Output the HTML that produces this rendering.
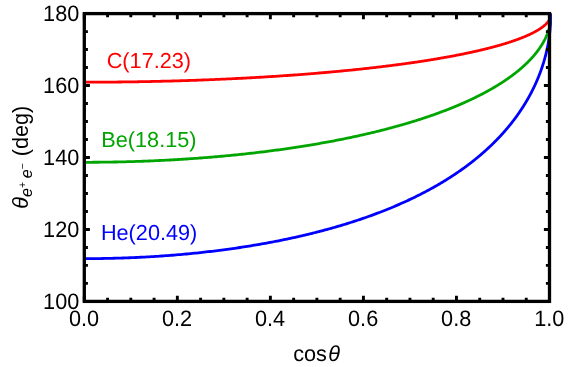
<!DOCTYPE html>
<html><head><meta charset="utf-8"><title>plot</title>
<style>
html,body{margin:0;padding:0;background:#fff;}
body{width:581px;height:367px;overflow:hidden;}
svg{display:block;will-change:transform;}
text{font-family:"Liberation Sans",sans-serif;}
</style></head><body>
<svg width="581" height="367" viewBox="0 0 581 367">
<rect x="0" y="0" width="581" height="367" fill="#ffffff"/>

<clipPath id="cp"><rect x="84.30" y="11.60" width="467.50" height="291.80"/></clipPath>
<g fill="none" stroke-width="2.8" stroke-linejoin="round" stroke-linecap="butt" clip-path="url(#cp)">
<path d="M84.30,82.20 L86.63,82.20 L88.96,82.20 L91.27,82.19 L93.59,82.19 L95.89,82.18 L98.19,82.17 L100.48,82.16 L102.76,82.15 L105.03,82.13 L107.30,82.12 L109.57,82.10 L111.82,82.08 L114.07,82.06 L116.31,82.04 L118.55,82.02 L120.77,81.99 L122.99,81.97 L125.21,81.94 L127.41,81.91 L129.61,81.88 L131.81,81.85 L133.99,81.82 L136.17,81.78 L138.35,81.75 L140.51,81.71 L142.67,81.67 L144.82,81.63 L146.97,81.59 L149.11,81.55 L151.24,81.50 L153.36,81.46 L155.48,81.41 L157.59,81.36 L159.70,81.32 L161.80,81.26 L163.89,81.21 L165.97,81.16 L168.05,81.11 L170.12,81.05 L172.18,81.00 L174.24,80.94 L176.29,80.88 L178.33,80.82 L180.37,80.76 L182.40,80.70 L184.43,80.63 L186.44,80.57 L188.45,80.50 L190.46,80.43 L192.46,80.37 L194.45,80.30 L196.43,80.23 L198.41,80.16 L200.38,80.08 L202.34,80.01 L204.30,79.94 L206.25,79.86 L208.19,79.78 L210.13,79.71 L212.06,79.63 L213.99,79.55 L215.91,79.47 L217.82,79.39 L219.72,79.30 L221.62,79.22 L223.51,79.13 L225.40,79.05 L227.28,78.96 L229.15,78.87 L231.01,78.79 L232.87,78.70 L234.73,78.61 L236.57,78.51 L238.41,78.42 L240.25,78.33 L242.07,78.23 L243.89,78.14 L245.71,78.04 L247.51,77.95 L249.32,77.85 L251.11,77.75 L252.90,77.65 L254.68,77.55 L256.46,77.45 L258.23,77.35 L259.99,77.24 L261.74,77.14 L263.49,77.03 L265.24,76.93 L266.97,76.82 L268.71,76.72 L270.43,76.61 L272.15,76.50 L273.86,76.39 L275.57,76.28 L277.27,76.17 L278.96,76.06 L280.65,75.94 L282.33,75.83 L284.00,75.72 L285.67,75.60 L287.33,75.49 L288.98,75.37 L290.63,75.25 L292.28,75.13 L293.91,75.02 L295.54,74.90 L297.17,74.78 L298.79,74.66 L300.40,74.53 L302.00,74.41 L303.60,74.29 L305.20,74.17 L306.78,74.04 L308.36,73.92 L309.94,73.79 L311.51,73.67 L313.07,73.54 L314.63,73.41 L316.18,73.28 L317.72,73.15 L319.26,73.02 L320.79,72.89 L322.32,72.76 L323.84,72.63 L325.35,72.50 L326.86,72.37 L328.36,72.24 L329.86,72.10 L331.35,71.97 L332.83,71.83 L334.31,71.70 L335.78,71.56 L337.24,71.42 L338.70,71.29 L340.16,71.15 L341.60,71.01 L343.05,70.87 L344.48,70.73 L345.91,70.59 L347.34,70.45 L348.75,70.31 L350.16,70.17 L351.57,70.03 L352.97,69.88 L354.37,69.74 L355.75,69.60 L357.14,69.45 L358.51,69.31 L359.88,69.16 L361.25,69.02 L362.61,68.87 L363.96,68.72 L365.31,68.58 L366.65,68.43 L367.98,68.28 L369.31,68.13 L370.64,67.98 L371.96,67.83 L373.27,67.68 L374.57,67.53 L375.88,67.38 L377.17,67.23 L378.46,67.08 L379.74,66.93 L381.02,66.77 L382.29,66.62 L383.56,66.47 L384.82,66.31 L386.08,66.16 L387.33,66.00 L388.57,65.85 L389.81,65.69 L391.04,65.54 L392.27,65.38 L393.49,65.22 L394.70,65.07 L395.91,64.91 L397.12,64.75 L398.31,64.59 L399.51,64.43 L400.69,64.28 L401.88,64.12 L403.05,63.96 L404.22,63.80 L405.39,63.64 L406.55,63.47 L407.70,63.31 L408.85,63.15 L409.99,62.99 L411.13,62.83 L412.26,62.66 L413.39,62.50 L414.51,62.34 L415.62,62.18 L416.73,62.01 L417.84,61.85 L418.94,61.68 L420.03,61.52 L421.12,61.35 L422.20,61.19 L423.28,61.02 L424.35,60.86 L425.42,60.69 L426.48,60.52 L427.53,60.36 L428.58,60.19 L429.63,60.02 L430.67,59.85 L431.70,59.69 L432.73,59.52 L433.75,59.35 L434.77,59.18 L435.79,59.01 L436.79,58.84 L437.80,58.67 L438.79,58.50 L439.78,58.33 L440.77,58.16 L441.75,57.99 L442.73,57.82 L443.70,57.65 L444.66,57.48 L445.63,57.31 L446.58,57.14 L447.53,56.97 L448.48,56.79 L449.41,56.62 L450.35,56.45 L451.28,56.28 L452.20,56.10 L453.12,55.93 L454.04,55.76 L454.94,55.58 L455.85,55.41 L456.75,55.24 L457.64,55.06 L458.53,54.89 L459.41,54.72 L460.29,54.54 L461.16,54.37 L462.03,54.19 L462.89,54.02 L463.75,53.84 L464.60,53.67 L465.45,53.49 L466.30,53.32 L467.13,53.14 L467.97,52.97 L468.80,52.79 L469.62,52.61 L470.44,52.44 L471.25,52.26 L472.06,52.09 L472.86,51.91 L473.66,51.73 L474.45,51.56 L475.24,51.38 L476.03,51.20 L476.81,51.02 L477.58,50.85 L478.35,50.67 L479.11,50.49 L479.87,50.32 L480.63,50.14 L481.38,49.96 L482.12,49.78 L482.86,49.61 L483.60,49.43 L484.33,49.25 L485.06,49.07 L485.78,48.89 L486.50,48.72 L487.21,48.54 L487.91,48.36 L488.62,48.18 L489.32,48.00 L490.01,47.82 L490.70,47.65 L491.38,47.47 L492.06,47.29 L492.73,47.11 L493.40,46.93 L494.07,46.75 L494.73,46.58 L495.39,46.40 L496.04,46.22 L496.69,46.04 L497.33,45.86 L497.97,45.68 L498.60,45.50 L499.23,45.33 L499.85,45.15 L500.47,44.97 L501.09,44.79 L501.70,44.61 L502.31,44.43 L502.91,44.25 L503.50,44.07 L504.10,43.90 L504.69,43.72 L505.27,43.54 L505.85,43.36 L506.43,43.18 L507.00,43.00 L507.56,42.82 L508.13,42.65 L508.68,42.47 L509.24,42.29 L509.79,42.11 L510.33,41.93 L510.87,41.75 L511.41,41.58 L511.94,41.40 L512.47,41.22 L512.99,41.04 L513.51,40.86 L514.02,40.69 L514.54,40.51 L515.04,40.33 L515.54,40.15 L516.04,39.98 L516.54,39.80 L517.03,39.62 L517.51,39.44 L517.99,39.27 L518.47,39.09 L518.94,38.91 L519.41,38.74 L519.88,38.56 L520.34,38.38 L520.80,38.21 L521.25,38.03 L521.70,37.85 L522.14,37.68 L522.58,37.50 L523.02,37.33 L523.45,37.15 L523.88,36.97 L524.31,36.80 L524.73,36.62 L525.14,36.45 L525.56,36.27 L525.97,36.10 L526.37,35.92 L526.77,35.75 L527.17,35.57 L527.56,35.40 L527.95,35.23 L528.34,35.05 L528.72,34.88 L529.10,34.70 L529.47,34.53 L529.84,34.36 L530.21,34.18 L530.57,34.01 L530.93,33.84 L531.29,33.67 L531.64,33.49 L531.98,33.32 L532.33,33.15 L532.67,32.98 L533.01,32.81 L533.34,32.63 L533.67,32.46 L533.99,32.29 L534.32,32.12 L534.64,31.95 L534.95,31.78 L535.26,31.61 L535.57,31.44 L535.87,31.27 L536.17,31.10 L536.47,30.93 L536.77,30.76 L537.06,30.60 L537.34,30.43 L537.63,30.26 L537.90,30.09 L538.18,29.92 L538.45,29.76 L538.72,29.59 L538.99,29.42 L539.25,29.26 L539.51,29.09 L539.77,28.92 L540.02,28.76 L540.27,28.59 L540.52,28.43 L540.76,28.26 L541.00,28.10 L541.23,27.93 L541.47,27.77 L541.70,27.61 L541.92,27.44 L542.15,27.28 L542.36,27.12 L542.58,26.96 L542.80,26.79 L543.01,26.63 L543.21,26.47 L543.42,26.31 L543.62,26.15 L543.82,25.99 L544.01,25.83 L544.20,25.67 L544.39,25.51 L544.58,25.35 L544.76,25.20 L544.94,25.04 L545.12,24.88 L545.29,24.72 L545.46,24.57 L545.63,24.41 L545.80,24.25 L545.96,24.10 L546.12,23.94 L546.27,23.79 L546.43,23.64 L546.58,23.48 L546.73,23.33 L546.87,23.18 L547.01,23.02 L547.15,22.87 L547.29,22.72 L547.43,22.57 L547.56,22.42 L547.69,22.27 L547.81,22.12 L547.94,21.97 L548.06,21.82 L548.17,21.67 L548.29,21.52 L548.40,21.38 L548.51,21.23 L548.62,21.09 L548.73,20.94 L548.83,20.79 L548.93,20.65 L549.03,20.51 L549.13,20.36 L549.22,20.22 L549.31,20.08 L549.40,19.94 L549.49,19.80 L549.57,19.66 L549.65,19.52 L549.73,19.38 L549.81,19.24 L549.88,19.10 L549.96,18.96 L550.03,18.83 L550.10,18.69 L550.16,18.56 L550.23,18.42 L550.29,18.29 L550.35,18.16 L550.41,18.03 L550.46,17.89 L550.52,17.76 L550.57,17.63 L550.62,17.51 L550.67,17.38 L550.71,17.25 L550.76,17.12 L550.80,17.00 L550.84,16.87 L550.88,16.75 L550.91,16.63 L550.95,16.51 L550.98,16.39 L551.01,16.27 L551.04,16.15 L551.07,16.03 L551.10,15.91 L551.13,15.80 L551.15,15.69 L551.17,15.57 L551.19,15.46 L551.21,15.35 L551.23,15.24 L551.25,15.14 L551.26,15.03 L551.28,14.93 L551.29,14.82 L551.30,14.72 L551.31,14.62 L551.32,14.52 L551.33,14.43 L551.33,14.34 L551.34,14.25 L551.35,14.16 L551.35,14.07 L551.35,13.99 L551.36,13.91 L551.36,13.83 L551.36,13.76 L551.36,13.70 L551.36,13.64 L551.36,13.60" stroke="#ff0000"/>
<path d="M84.30,162.30 L86.63,162.30 L88.96,162.29 L91.27,162.28 L93.59,162.27 L95.89,162.26 L98.19,162.24 L100.48,162.22 L102.76,162.19 L105.03,162.16 L107.30,162.13 L109.57,162.10 L111.82,162.06 L114.07,162.02 L116.31,161.98 L118.55,161.93 L120.77,161.88 L122.99,161.83 L125.21,161.78 L127.41,161.72 L129.61,161.66 L131.81,161.59 L133.99,161.53 L136.17,161.46 L138.35,161.38 L140.51,161.31 L142.67,161.23 L144.82,161.15 L146.97,161.07 L149.11,160.98 L151.24,160.89 L153.36,160.80 L155.48,160.71 L157.59,160.61 L159.70,160.51 L161.80,160.41 L163.89,160.30 L165.97,160.20 L168.05,160.09 L170.12,159.98 L172.18,159.86 L174.24,159.75 L176.29,159.63 L178.33,159.50 L180.37,159.38 L182.40,159.25 L184.43,159.13 L186.44,158.99 L188.45,158.86 L190.46,158.72 L192.46,158.59 L194.45,158.45 L196.43,158.30 L198.41,158.16 L200.38,158.01 L202.34,157.86 L204.30,157.71 L206.25,157.56 L208.19,157.40 L210.13,157.24 L212.06,157.08 L213.99,156.92 L215.91,156.76 L217.82,156.59 L219.72,156.42 L221.62,156.25 L223.51,156.08 L225.40,155.90 L227.28,155.73 L229.15,155.55 L231.01,155.37 L232.87,155.18 L234.73,155.00 L236.57,154.81 L238.41,154.62 L240.25,154.43 L242.07,154.24 L243.89,154.04 L245.71,153.85 L247.51,153.65 L249.32,153.45 L251.11,153.25 L252.90,153.04 L254.68,152.84 L256.46,152.63 L258.23,152.42 L259.99,152.21 L261.74,152.00 L263.49,151.78 L265.24,151.57 L266.97,151.35 L268.71,151.13 L270.43,150.91 L272.15,150.68 L273.86,150.46 L275.57,150.23 L277.27,150.00 L278.96,149.77 L280.65,149.54 L282.33,149.31 L284.00,149.07 L285.67,148.84 L287.33,148.60 L288.98,148.36 L290.63,148.12 L292.28,147.88 L293.91,147.63 L295.54,147.39 L297.17,147.14 L298.79,146.89 L300.40,146.64 L302.00,146.39 L303.60,146.13 L305.20,145.88 L306.78,145.62 L308.36,145.36 L309.94,145.10 L311.51,144.84 L313.07,144.58 L314.63,144.31 L316.18,144.05 L317.72,143.78 L319.26,143.51 L320.79,143.24 L322.32,142.97 L323.84,142.70 L325.35,142.43 L326.86,142.15 L328.36,141.88 L329.86,141.60 L331.35,141.32 L332.83,141.04 L334.31,140.76 L335.78,140.47 L337.24,140.19 L338.70,139.90 L340.16,139.62 L341.60,139.33 L343.05,139.04 L344.48,138.75 L345.91,138.46 L347.34,138.16 L348.75,137.87 L350.16,137.57 L351.57,137.28 L352.97,136.98 L354.37,136.68 L355.75,136.38 L357.14,136.08 L358.51,135.77 L359.88,135.47 L361.25,135.17 L362.61,134.86 L363.96,134.55 L365.31,134.24 L366.65,133.93 L367.98,133.62 L369.31,133.31 L370.64,133.00 L371.96,132.68 L373.27,132.37 L374.57,132.05 L375.88,131.74 L377.17,131.42 L378.46,131.10 L379.74,130.78 L381.02,130.46 L382.29,130.13 L383.56,129.81 L384.82,129.49 L386.08,129.16 L387.33,128.83 L388.57,128.51 L389.81,128.18 L391.04,127.85 L392.27,127.52 L393.49,127.19 L394.70,126.86 L395.91,126.52 L397.12,126.19 L398.31,125.85 L399.51,125.52 L400.69,125.18 L401.88,124.84 L403.05,124.50 L404.22,124.16 L405.39,123.82 L406.55,123.48 L407.70,123.14 L408.85,122.80 L409.99,122.45 L411.13,122.11 L412.26,121.77 L413.39,121.42 L414.51,121.07 L415.62,120.72 L416.73,120.38 L417.84,120.03 L418.94,119.68 L420.03,119.32 L421.12,118.97 L422.20,118.62 L423.28,118.27 L424.35,117.91 L425.42,117.56 L426.48,117.20 L427.53,116.85 L428.58,116.49 L429.63,116.13 L430.67,115.77 L431.70,115.42 L432.73,115.06 L433.75,114.70 L434.77,114.33 L435.79,113.97 L436.79,113.61 L437.80,113.25 L438.79,112.88 L439.78,112.52 L440.77,112.15 L441.75,111.79 L442.73,111.42 L443.70,111.06 L444.66,110.69 L445.63,110.32 L446.58,109.95 L447.53,109.58 L448.48,109.21 L449.41,108.84 L450.35,108.47 L451.28,108.10 L452.20,107.73 L453.12,107.36 L454.04,106.98 L454.94,106.61 L455.85,106.24 L456.75,105.86 L457.64,105.49 L458.53,105.11 L459.41,104.73 L460.29,104.36 L461.16,103.98 L462.03,103.60 L462.89,103.23 L463.75,102.85 L464.60,102.47 L465.45,102.09 L466.30,101.71 L467.13,101.33 L467.97,100.95 L468.80,100.57 L469.62,100.19 L470.44,99.80 L471.25,99.42 L472.06,99.04 L472.86,98.66 L473.66,98.27 L474.45,97.89 L475.24,97.51 L476.03,97.12 L476.81,96.74 L477.58,96.35 L478.35,95.97 L479.11,95.58 L479.87,95.20 L480.63,94.81 L481.38,94.42 L482.12,94.04 L482.86,93.65 L483.60,93.26 L484.33,92.87 L485.06,92.49 L485.78,92.10 L486.50,91.71 L487.21,91.32 L487.91,90.93 L488.62,90.54 L489.32,90.15 L490.01,89.76 L490.70,89.37 L491.38,88.98 L492.06,88.59 L492.73,88.20 L493.40,87.81 L494.07,87.42 L494.73,87.03 L495.39,86.64 L496.04,86.25 L496.69,85.86 L497.33,85.47 L497.97,85.07 L498.60,84.68 L499.23,84.29 L499.85,83.90 L500.47,83.51 L501.09,83.11 L501.70,82.72 L502.31,82.33 L502.91,81.94 L503.50,81.55 L504.10,81.15 L504.69,80.76 L505.27,80.37 L505.85,79.97 L506.43,79.58 L507.00,79.19 L507.56,78.80 L508.13,78.40 L508.68,78.01 L509.24,77.62 L509.79,77.23 L510.33,76.83 L510.87,76.44 L511.41,76.05 L511.94,75.65 L512.47,75.26 L512.99,74.87 L513.51,74.48 L514.02,74.08 L514.54,73.69 L515.04,73.30 L515.54,72.91 L516.04,72.51 L516.54,72.12 L517.03,71.73 L517.51,71.34 L517.99,70.95 L518.47,70.56 L518.94,70.16 L519.41,69.77 L519.88,69.38 L520.34,68.99 L520.80,68.60 L521.25,68.21 L521.70,67.82 L522.14,67.43 L522.58,67.04 L523.02,66.65 L523.45,66.26 L523.88,65.87 L524.31,65.48 L524.73,65.09 L525.14,64.70 L525.56,64.31 L525.97,63.93 L526.37,63.54 L526.77,63.15 L527.17,62.76 L527.56,62.38 L527.95,61.99 L528.34,61.60 L528.72,61.22 L529.10,60.83 L529.47,60.44 L529.84,60.06 L530.21,59.67 L530.57,59.29 L530.93,58.91 L531.29,58.52 L531.64,58.14 L531.98,57.76 L532.33,57.37 L532.67,56.99 L533.01,56.61 L533.34,56.23 L533.67,55.85 L533.99,55.46 L534.32,55.08 L534.64,54.70 L534.95,54.33 L535.26,53.95 L535.57,53.57 L535.87,53.19 L536.17,52.81 L536.47,52.44 L536.77,52.06 L537.06,51.68 L537.34,51.31 L537.63,50.93 L537.90,50.56 L538.18,50.18 L538.45,49.81 L538.72,49.44 L538.99,49.07 L539.25,48.69 L539.51,48.32 L539.77,47.95 L540.02,47.58 L540.27,47.21 L540.52,46.84 L540.76,46.48 L541.00,46.11 L541.23,45.74 L541.47,45.38 L541.70,45.01 L541.92,44.65 L542.15,44.28 L542.36,43.92 L542.58,43.56 L542.80,43.19 L543.01,42.83 L543.21,42.47 L543.42,42.11 L543.62,41.75 L543.82,41.39 L544.01,41.04 L544.20,40.68 L544.39,40.32 L544.58,39.97 L544.76,39.62 L544.94,39.26 L545.12,38.91 L545.29,38.56 L545.46,38.21 L545.63,37.86 L545.80,37.51 L545.96,37.16 L546.12,36.81 L546.27,36.47 L546.43,36.12 L546.58,35.78 L546.73,35.43 L546.87,35.09 L547.01,34.75 L547.15,34.41 L547.29,34.07 L547.43,33.73 L547.56,33.39 L547.69,33.05 L547.81,32.72 L547.94,32.39 L548.06,32.05 L548.17,31.72 L548.29,31.39 L548.40,31.06 L548.51,30.73 L548.62,30.40 L548.73,30.08 L548.83,29.75 L548.93,29.43 L549.03,29.11 L549.13,28.78 L549.22,28.46 L549.31,28.15 L549.40,27.83 L549.49,27.51 L549.57,27.20 L549.65,26.88 L549.73,26.57 L549.81,26.26 L549.88,25.95 L549.96,25.65 L550.03,25.34 L550.10,25.04 L550.16,24.73 L550.23,24.43 L550.29,24.13 L550.35,23.83 L550.41,23.54 L550.46,23.24 L550.52,22.95 L550.57,22.66 L550.62,22.37 L550.67,22.08 L550.71,21.80 L550.76,21.51 L550.80,21.23 L550.84,20.95 L550.88,20.68 L550.91,20.40 L550.95,20.13 L550.98,19.86 L551.01,19.59 L551.04,19.32 L551.07,19.06 L551.10,18.80 L551.13,18.54 L551.15,18.28 L551.17,18.03 L551.19,17.78 L551.21,17.53 L551.23,17.29 L551.25,17.05 L551.26,16.81 L551.28,16.58 L551.29,16.35 L551.30,16.12 L551.31,15.90 L551.32,15.68 L551.33,15.46 L551.33,15.25 L551.34,15.05 L551.35,14.85 L551.35,14.66 L551.35,14.47 L551.36,14.30 L551.36,14.13 L551.36,13.97 L551.36,13.82 L551.36,13.69 L551.36,13.60" stroke="#00a500"/>
<path d="M84.30,258.66 L86.63,258.66 L88.95,258.65 L91.27,258.64 L93.58,258.62 L95.88,258.60 L98.17,258.58 L100.46,258.55 L102.74,258.51 L105.01,258.47 L107.28,258.43 L109.54,258.38 L111.79,258.33 L114.04,258.27 L116.28,258.21 L118.51,258.15 L120.74,258.08 L122.96,258.00 L125.17,257.92 L127.37,257.84 L129.57,257.76 L131.76,257.67 L133.94,257.57 L136.12,257.48 L138.29,257.37 L140.46,257.27 L142.61,257.16 L144.76,257.04 L146.91,256.93 L149.04,256.80 L151.17,256.68 L153.29,256.55 L155.41,256.42 L157.52,256.28 L159.62,256.14 L161.72,256.00 L163.81,255.85 L165.89,255.70 L167.96,255.54 L170.03,255.39 L172.10,255.23 L174.15,255.06 L176.20,254.89 L178.24,254.72 L180.28,254.54 L182.31,254.36 L184.33,254.18 L186.34,254.00 L188.35,253.81 L190.35,253.61 L192.35,253.42 L194.34,253.22 L196.32,253.02 L198.29,252.81 L200.26,252.60 L202.22,252.39 L204.18,252.17 L206.13,251.95 L208.07,251.73 L210.01,251.51 L211.94,251.28 L213.86,251.05 L215.78,250.81 L217.68,250.57 L219.59,250.33 L221.48,250.09 L223.37,249.84 L225.26,249.59 L227.13,249.34 L229.00,249.08 L230.87,248.82 L232.73,248.56 L234.58,248.30 L236.42,248.03 L238.26,247.76 L240.09,247.49 L241.92,247.21 L243.73,246.93 L245.55,246.65 L247.35,246.36 L249.15,246.07 L250.94,245.78 L252.73,245.49 L254.51,245.19 L256.28,244.89 L258.05,244.59 L259.81,244.29 L261.57,243.98 L263.32,243.67 L265.06,243.36 L266.79,243.04 L268.52,242.72 L270.24,242.40 L271.96,242.08 L273.67,241.75 L275.38,241.42 L277.07,241.09 L278.76,240.76 L280.45,240.42 L282.13,240.08 L283.80,239.74 L285.47,239.39 L287.13,239.05 L288.78,238.70 L290.43,238.34 L292.07,237.99 L293.70,237.63 L295.33,237.27 L296.96,236.91 L298.57,236.55 L300.18,236.18 L301.79,235.81 L303.38,235.44 L304.98,235.06 L306.56,234.68 L308.14,234.30 L309.71,233.92 L311.28,233.54 L312.84,233.15 L314.40,232.76 L315.95,232.37 L317.49,231.98 L319.03,231.58 L320.56,231.18 L322.08,230.78 L323.60,230.38 L325.11,229.97 L326.62,229.56 L328.12,229.15 L329.61,228.74 L331.10,228.33 L332.58,227.91 L334.06,227.49 L335.53,227.07 L336.99,226.64 L338.45,226.22 L339.90,225.79 L341.35,225.36 L342.79,224.93 L344.22,224.49 L345.65,224.05 L347.07,223.62 L348.49,223.17 L349.90,222.73 L351.30,222.28 L352.70,221.84 L354.10,221.39 L355.48,220.93 L356.86,220.48 L358.24,220.02 L359.61,219.57 L360.97,219.10 L362.33,218.64 L363.68,218.18 L365.03,217.71 L366.37,217.24 L367.70,216.77 L369.03,216.30 L370.35,215.82 L371.67,215.35 L372.98,214.87 L374.29,214.39 L375.59,213.90 L376.88,213.42 L378.17,212.93 L379.45,212.44 L380.73,211.95 L382.00,211.46 L383.26,210.96 L384.52,210.47 L385.78,209.97 L387.02,209.47 L388.27,208.97 L389.50,208.46 L390.73,207.96 L391.96,207.45 L393.18,206.94 L394.39,206.43 L395.60,205.91 L396.80,205.40 L398.00,204.88 L399.19,204.36 L400.38,203.84 L401.56,203.32 L402.73,202.79 L403.90,202.27 L405.07,201.74 L406.23,201.21 L407.38,200.68 L408.53,200.14 L409.67,199.61 L410.80,199.07 L411.93,198.53 L413.06,197.99 L414.18,197.45 L415.29,196.91 L416.40,196.36 L417.51,195.81 L418.60,195.27 L419.70,194.72 L420.78,194.16 L421.86,193.61 L422.94,193.05 L424.01,192.50 L425.08,191.94 L426.14,191.38 L427.19,190.82 L428.24,190.25 L429.28,189.69 L430.32,189.12 L431.36,188.55 L432.38,187.98 L433.41,187.41 L434.42,186.84 L435.44,186.27 L436.44,185.69 L437.44,185.11 L438.44,184.54 L439.43,183.96 L440.42,183.37 L441.40,182.79 L442.37,182.21 L443.34,181.62 L444.31,181.03 L445.27,180.44 L446.22,179.85 L447.17,179.26 L448.11,178.67 L449.05,178.07 L449.98,177.48 L450.91,176.88 L451.84,176.28 L452.75,175.68 L453.67,175.08 L454.57,174.48 L455.48,173.88 L456.38,173.27 L457.27,172.66 L458.16,172.06 L459.04,171.45 L459.91,170.84 L460.79,170.23 L461.65,169.61 L462.52,169.00 L463.37,168.38 L464.23,167.77 L465.07,167.15 L465.92,166.53 L466.75,165.91 L467.59,165.29 L468.41,164.67 L469.23,164.05 L470.05,163.42 L470.86,162.80 L471.67,162.17 L472.47,161.54 L473.27,160.91 L474.07,160.28 L474.85,159.65 L475.64,159.02 L476.41,158.39 L477.19,157.75 L477.96,157.12 L478.72,156.48 L479.48,155.85 L480.23,155.21 L480.98,154.57 L481.73,153.93 L482.47,153.29 L483.20,152.65 L483.93,152.00 L484.66,151.36 L485.38,150.72 L486.09,150.07 L486.81,149.43 L487.51,148.78 L488.21,148.13 L488.91,147.48 L489.60,146.83 L490.29,146.18 L490.98,145.53 L491.65,144.88 L492.33,144.23 L493.00,143.57 L493.66,142.92 L494.32,142.26 L494.98,141.61 L495.63,140.95 L496.28,140.30 L496.92,139.64 L497.55,138.98 L498.19,138.32 L498.82,137.66 L499.44,137.00 L500.06,136.34 L500.67,135.68 L501.28,135.02 L501.89,134.35 L502.49,133.69 L503.09,133.03 L503.68,132.36 L504.27,131.70 L504.85,131.03 L505.43,130.37 L506.00,129.70 L506.58,129.03 L507.14,128.37 L507.70,127.70 L508.26,127.03 L508.81,126.36 L509.36,125.69 L509.91,125.03 L510.45,124.36 L510.98,123.69 L511.51,123.02 L512.04,122.35 L512.56,121.67 L513.08,121.00 L513.60,120.33 L514.11,119.66 L514.61,118.99 L515.11,118.32 L515.61,117.64 L516.11,116.97 L516.60,116.30 L517.08,115.63 L517.56,114.95 L518.04,114.28 L518.51,113.61 L518.98,112.93 L519.44,112.26 L519.90,111.58 L520.36,110.91 L520.81,110.24 L521.26,109.56 L521.71,108.89 L522.15,108.22 L522.58,107.54 L523.01,106.87 L523.44,106.19 L523.87,105.52 L524.29,104.85 L524.70,104.17 L525.12,103.50 L525.53,102.82 L525.93,102.15 L526.33,101.48 L526.73,100.81 L527.12,100.13 L527.51,99.46 L527.89,98.79 L528.28,98.11 L528.65,97.44 L529.03,96.77 L529.40,96.10 L529.76,95.43 L530.13,94.76 L530.49,94.09 L530.84,93.42 L531.19,92.75 L531.54,92.08 L531.88,91.41 L532.22,90.74 L532.56,90.07 L532.89,89.40 L533.22,88.73 L533.55,88.07 L533.87,87.40 L534.19,86.74 L534.50,86.07 L534.81,85.40 L535.12,84.74 L535.42,84.08 L535.72,83.41 L536.02,82.75 L536.31,82.09 L536.60,81.43 L536.89,80.77 L537.17,80.11 L537.45,79.45 L537.73,78.79 L538.00,78.13 L538.27,77.47 L538.54,76.82 L538.80,76.16 L539.06,75.51 L539.31,74.85 L539.57,74.20 L539.82,73.55 L540.06,72.90 L540.30,72.25 L540.54,71.60 L540.78,70.95 L541.01,70.30 L541.24,69.65 L541.47,69.01 L541.69,68.36 L541.91,67.72 L542.13,67.08 L542.34,66.44 L542.55,65.80 L542.76,65.16 L542.96,64.52 L543.16,63.88 L543.36,63.25 L543.55,62.61 L543.75,61.98 L543.93,61.35 L544.12,60.72 L544.30,60.09 L544.48,59.46 L544.66,58.83 L544.83,58.21 L545.00,57.58 L545.17,56.96 L545.34,56.34 L545.50,55.72 L545.66,55.10 L545.81,54.49 L545.97,53.87 L546.12,53.26 L546.27,52.65 L546.41,52.04 L546.55,51.43 L546.69,50.82 L546.83,50.21 L546.96,49.61 L547.10,49.01 L547.22,48.41 L547.35,47.81 L547.47,47.21 L547.59,46.62 L547.71,46.03 L547.83,45.44 L547.94,44.85 L548.05,44.26 L548.16,43.68 L548.27,43.09 L548.37,42.51 L548.47,41.94 L548.57,41.36 L548.66,40.79 L548.76,40.21 L548.85,39.64 L548.94,39.08 L549.02,38.51 L549.11,37.95 L549.19,37.39 L549.27,36.83 L549.35,36.28 L549.42,35.72 L549.49,35.17 L549.56,34.63 L549.63,34.08 L549.70,33.54 L549.76,33.00 L549.82,32.47 L549.88,31.93 L549.94,31.40 L550.00,30.88 L550.05,30.35 L550.10,29.83 L550.15,29.31 L550.20,28.80 L550.25,28.29 L550.29,27.78 L550.33,27.28 L550.37,26.78 L550.41,26.28 L550.45,25.79 L550.48,25.30 L550.52,24.81 L550.55,24.33 L550.58,23.86 L550.61,23.38 L550.63,22.92 L550.66,22.45 L550.68,21.99 L550.71,21.54 L550.73,21.09 L550.75,20.65 L550.76,20.21 L550.78,19.78 L550.80,19.35 L550.81,18.93 L550.82,18.52 L550.83,18.11 L550.84,17.71 L550.85,17.32 L550.86,16.94 L550.87,16.56 L550.88,16.20 L550.88,15.84 L550.88,15.50 L550.89,15.17 L550.89,14.85 L550.89,14.54 L550.89,14.26 L550.90,14.00 L550.90,13.77 L550.90,13.60" stroke="#0000ff"/>
</g>
<g stroke="#000" stroke-width="2.9" fill="none">
<path d="M84.30,301.40 v-5.60 M84.30,13.60 v5.60"/>
<path d="M107.56,301.40 v-3.60 M107.56,13.60 v3.60"/>
<path d="M130.82,301.40 v-3.60 M130.82,13.60 v3.60"/>
<path d="M154.08,301.40 v-3.60 M154.08,13.60 v3.60"/>
<path d="M177.34,301.40 v-5.60 M177.34,13.60 v5.60"/>
<path d="M200.60,301.40 v-3.60 M200.60,13.60 v3.60"/>
<path d="M223.86,301.40 v-3.60 M223.86,13.60 v3.60"/>
<path d="M247.12,301.40 v-3.60 M247.12,13.60 v3.60"/>
<path d="M270.38,301.40 v-5.60 M270.38,13.60 v5.60"/>
<path d="M293.64,301.40 v-3.60 M293.64,13.60 v3.60"/>
<path d="M316.90,301.40 v-3.60 M316.90,13.60 v3.60"/>
<path d="M340.16,301.40 v-3.60 M340.16,13.60 v3.60"/>
<path d="M363.42,301.40 v-5.60 M363.42,13.60 v5.60"/>
<path d="M386.68,301.40 v-3.60 M386.68,13.60 v3.60"/>
<path d="M409.94,301.40 v-3.60 M409.94,13.60 v3.60"/>
<path d="M433.20,301.40 v-3.60 M433.20,13.60 v3.60"/>
<path d="M456.46,301.40 v-5.60 M456.46,13.60 v5.60"/>
<path d="M479.72,301.40 v-3.60 M479.72,13.60 v3.60"/>
<path d="M502.98,301.40 v-3.60 M502.98,13.60 v3.60"/>
<path d="M526.24,301.40 v-3.60 M526.24,13.60 v3.60"/>
<path d="M549.50,301.40 v-5.60 M549.50,13.60 v5.60"/>
<path d="M84.30,301.40 h5.60 M549.50,301.40 h-5.60"/>
<path d="M84.30,283.41 h3.60 M549.50,283.41 h-3.60"/>
<path d="M84.30,265.42 h3.60 M549.50,265.42 h-3.60"/>
<path d="M84.30,247.44 h3.60 M549.50,247.44 h-3.60"/>
<path d="M84.30,229.45 h5.60 M549.50,229.45 h-5.60"/>
<path d="M84.30,211.46 h3.60 M549.50,211.46 h-3.60"/>
<path d="M84.30,193.47 h3.60 M549.50,193.47 h-3.60"/>
<path d="M84.30,175.49 h3.60 M549.50,175.49 h-3.60"/>
<path d="M84.30,157.50 h5.60 M549.50,157.50 h-5.60"/>
<path d="M84.30,139.51 h3.60 M549.50,139.51 h-3.60"/>
<path d="M84.30,121.52 h3.60 M549.50,121.52 h-3.60"/>
<path d="M84.30,103.54 h3.60 M549.50,103.54 h-3.60"/>
<path d="M84.30,85.55 h5.60 M549.50,85.55 h-5.60"/>
<path d="M84.30,67.56 h3.60 M549.50,67.56 h-3.60"/>
<path d="M84.30,49.57 h3.60 M549.50,49.57 h-3.60"/>
<path d="M84.30,31.59 h3.60 M549.50,31.59 h-3.60"/>
<path d="M84.30,13.60 h5.60 M549.50,13.60 h-5.60"/>
</g>
<rect x="84.30" y="13.60" width="465.20" height="287.80" fill="none" stroke="#000" stroke-width="3.3"/>
<g font-size="21.7" fill="#000">
<text transform="translate(84.00,325.7) skewX(0.05) scale(1,1.03)" text-anchor="middle">0.0</text>
<text transform="translate(177.04,325.7) skewX(0.05) scale(1,1.03)" text-anchor="middle">0.2</text>
<text transform="translate(270.08,325.7) skewX(0.05) scale(1,1.03)" text-anchor="middle">0.4</text>
<text transform="translate(363.12,325.7) skewX(0.05) scale(1,1.03)" text-anchor="middle">0.6</text>
<text transform="translate(456.16,325.7) skewX(0.05) scale(1,1.03)" text-anchor="middle">0.8</text>
<text transform="translate(549.20,325.7) skewX(0.05) scale(1,1.03)" text-anchor="middle">1.0</text>
<text transform="translate(79.3,308.60) skewX(0.05) scale(1,1.03)" text-anchor="end">100</text>
<text transform="translate(79.3,236.65) skewX(0.05) scale(1,1.03)" text-anchor="end">120</text>
<text transform="translate(79.3,164.70) skewX(0.05) scale(1,1.03)" text-anchor="end">140</text>
<text transform="translate(79.3,92.75) skewX(0.05) scale(1,1.03)" text-anchor="end">160</text>
<text transform="translate(79.3,20.80) skewX(0.05) scale(1,1.03)" text-anchor="end">180</text>
</g>
<text transform="translate(106.7,68.1) skewX(0.05)" font-size="21.7" fill="#ff0000">C(17.23)</text>
<text transform="translate(101.3,147) skewX(0.05)" font-size="21.7" fill="#00a500">Be(18.15)</text>
<text transform="translate(100.9,240.1) skewX(0.05)" font-size="21.7" fill="#0000ff">He(20.49)</text>
<text transform="translate(293.2,361.0) skewX(0.05)" font-size="21.7" fill="#000">cos<tspan font-style="italic" dx="1.2">θ</tspan></text>
<g transform="translate(28,208.7) rotate(-90)"><text x="0" y="0" font-size="21.7" fill="#000"><tspan font-style="italic">θ</tspan><tspan font-style="italic" font-size="16" dy="4.2">e</tspan><tspan font-size="10.5" dy="-6.0">+</tspan><tspan font-style="italic" font-size="16" dy="6.0" dx="3.6">e</tspan><tspan font-size="10.5" dy="-6.5">−</tspan><tspan dy="2.3" dx="0.9"> (deg)</tspan></text></g>
</svg></body></html>
